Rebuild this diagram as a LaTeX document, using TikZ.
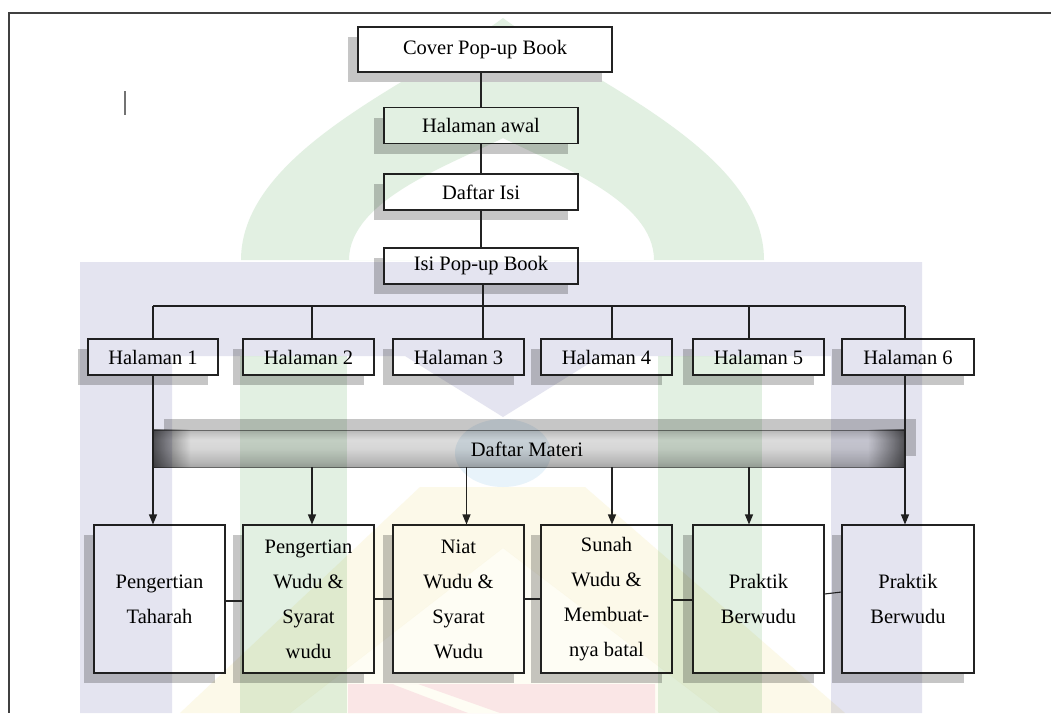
\documentclass[tikz,border=0pt]{standalone}
\usepackage{fontspec}
\setmainfont{Liberation Serif}
\newfontfamily\diagfont{Liberation Serif}
\usetikzlibrary{arrows.meta,calc,shadows}

\definecolor{wmgreen}{RGB}{226,240,226}
\definecolor{wmblue}{RGB}{228,228,240}
\definecolor{wmyellow}{RGB}{252,249,233}
\definecolor{wmyellowlt}{RGB}{254,253,244}
\definecolor{wmred}{RGB}{250,230,230}
\definecolor{wmcyan}{RGB}{232,243,250}
\definecolor{shadowgray}{RGB}{198,198,198}
\definecolor{edge}{RGB}{35,35,35}

\pgfdeclareverticalshading{matv}{100bp}{color(0bp)=(gray!70); color(25bp)=(gray!70); color(33bp)=(gray!55); color(50bp)=(gray!32); color(62bp)=(gray!28); color(70bp)=(gray!45); color(74bp)=(gray!55); color(75bp)=(gray!85); color(100bp)=(gray!85)}
\pgfdeclarehorizontalshading{matends}{100bp}{color(0bp)=(black!60); color(25bp)=(black!60); color(26bp)=(black!35); color(27.5bp)=(white); color(72.5bp)=(white); color(74bp)=(black!35); color(75bp)=(black!60); color(100bp)=(black!60)}

\tikzset{
  box/.style={draw=edge, line width=1.1pt, fill=white, inner sep=0pt,
    font=\diagfont\fontsize{20.5}{35}\selectfont, align=center,
    drop shadow={shadow xshift=-10pt, shadow yshift=-10pt, fill=shadowgray, opacity=1}},
  topbox/.style={box, minimum width=194pt, minimum height=36pt},
  halbox/.style={box, minimum width=131pt, minimum height=36pt},
  matbox/.style={box, minimum width=131pt, minimum height=148pt},
  link/.style={draw=edge, line width=1.1pt},
  arr/.style={link, -{Triangle[length=10pt,width=8pt]}},
}

\begin{document}
\begin{tikzpicture}[x=1pt,y=-1pt]
\useasboundingbox (0,0) rectangle (1051,713);
\fill[white] (0,0) rectangle (1051,713);

% frame and cursor mark
\draw[line width=1.6pt, black!75] (1051,13) -- (9,13) -- (9,713);
\draw[line width=1.2pt, black!55] (125,91) -- (125,115);

% upper chain
\node[topbox] (awal) at (481,125.5) {Halaman awal};
\node[topbox] (daftar) at (481,192) {Daftar Isi};
\node[topbox] (isi) at (481,266) {Isi Pop-up Book};

% pages
\node[halbox, minimum width=130pt] (h1) at (153,357) {Halaman 1};
\node[halbox] (h2) at (308.5,357) {Halaman 2};
\node[halbox] (h3) at (458.5,357) {Halaman 3};
\node[halbox] (h4) at (606.5,357) {Halaman 4};
\node[halbox] (h5) at (758.5,357) {Halaman 5};
\node[halbox, minimum width=132pt] (h6) at (908,357) {Halaman 6};

% material bar
\node[draw=black!60, line width=0.8pt, shade, shading=matv, minimum width=752pt, minimum height=37pt,
  inner sep=0pt,
  drop shadow={shadow xshift=11pt, shadow yshift=11pt, fill=shadowgray, opacity=1}]
  (materi) at (529,448.5) {};
\shade[shading=matends, blend mode=multiply] (materi.south west) rectangle (materi.north east);

% material boxes
\node[matbox] (b1) at (159.5,599) {Pengertian\\Taharah};
\node[matbox] (b2) at (308.5,599) {Pengertian\\Wudu \&\\Syarat\\wudu};
\node[matbox] (b3) at (458.5,599) {Niat\\Wudu \&\\Syarat\\Wudu};
\node[matbox] (b4) at (606.5,599) {Sunah\\Wudu \&\\Membuat-\\nya batal};
\node[matbox] (b5) at (758.5,599) {Praktik\\Berwudu};
\node[matbox, minimum width=132pt] (b6) at (908,599) {Praktik\\Berwudu};

% bus
\coordinate (bus1) at (153,306);
\coordinate (bus2) at (312,306);
\coordinate (bus3) at (483,306);
\coordinate (bus4) at (612,306);
\coordinate (bus5) at (749,306);
\coordinate (bus6) at (905,306);

\draw[link] (awal.south) -- (daftar.north);
\draw[link] (daftar.south) -- (isi.north);
\draw[link] (isi.south -| bus3) -- (bus3);
\draw[link] (bus1) -- (bus6);
\draw[link] (bus1) -- (bus1 |- h1.north);
\draw[link] (bus2) -- (bus2 |- h2.north);
\draw[link] (bus3) -- (bus3 |- h3.north);
\draw[link] (bus4) -- (bus4 |- h4.north);
\draw[link] (bus5) -- (bus5 |- h5.north);
\draw[link] (bus6) -- (bus6 |- h6.north);

% arrows
\draw[arr] (bus1 |- h1.south) -- (bus1 |- b1.north);
\draw[arr] (bus6 |- h6.south) -- (bus6 |- b6.north);
\draw[arr] (bus2 |- materi.south) -- (bus2 |- b2.north);
\draw[arr] ([xshift=8pt]b3.north |- materi.south) -- ([xshift=8pt]b3.north);
\draw[arr] (bus4 |- materi.south) -- (bus4 |- b4.north);
\draw[arr] (bus5 |- materi.south) -- (bus5 |- b5.north);

% links between material boxes
\draw[link] ([yshift=-2pt]b1.east) -- ([yshift=-2pt]b2.west);
\draw[link] (b2.east) -- (b3.west);
\draw[link] (b3.east) -- (b4.west);
\draw[link] ([yshift=-1pt]b4.east) -- ([yshift=-1pt]b5.west);
\draw[link] ([yshift=5pt]b5.east) -- ([yshift=7pt]b6.west);

% watermark
\begin{scope}[blend mode=multiply]
\fill[wmgreen, even odd rule] (241,260) .. controls (241,150) and (420,80) .. (503,18)
   .. controls (586,80) and (764,150) .. (764,260) -- cycle
   (349,260) .. controls (349,200) and (450,165) .. (503,138)
   .. controls (556,165) and (654,200) .. (654,260) -- cycle;
\fill[wmblue] (80,262) -- (922,262) -- (922,713) -- (831,713) -- (831,356) -- (601,356)
   -- (503,417) -- (405,356) -- (172,356) -- (172,713) -- (80,713) -- cycle;
\fill[wmgreen] (240,356) rectangle (347,713);
\fill[wmgreen] (658,356) rectangle (762,713);
\fill[wmcyan] (503,453) ellipse [x radius=48, y radius=34];
\fill[wmyellow, even odd rule] (420,487) -- (585,487) -- (845,713) -- (180,713) -- cycle
   (503,548) -- (720,713) -- (290,713) -- cycle;
\fill[wmyellowlt] (503,548) -- (720,713) -- (290,713) -- cycle;
\end{scope}
\fill[wmred, even odd rule] (348,684) rectangle (655,713)
   (392,684) -- (418,684) -- (500,713) -- (468,713) -- cycle;

% bar label
\node[font=\diagfont\fontsize{20.5}{24}\selectfont, inner sep=0pt] (materitxt) at (527,449) {Daftar Materi};

% cover box on top
\node[box, minimum width=254pt, minimum height=45pt] (cover) at (485,49.5) {Cover Pop-up Book};
\draw[link] (cover.south -| awal.north) -- (awal.north);
\end{tikzpicture}
\end{document}
